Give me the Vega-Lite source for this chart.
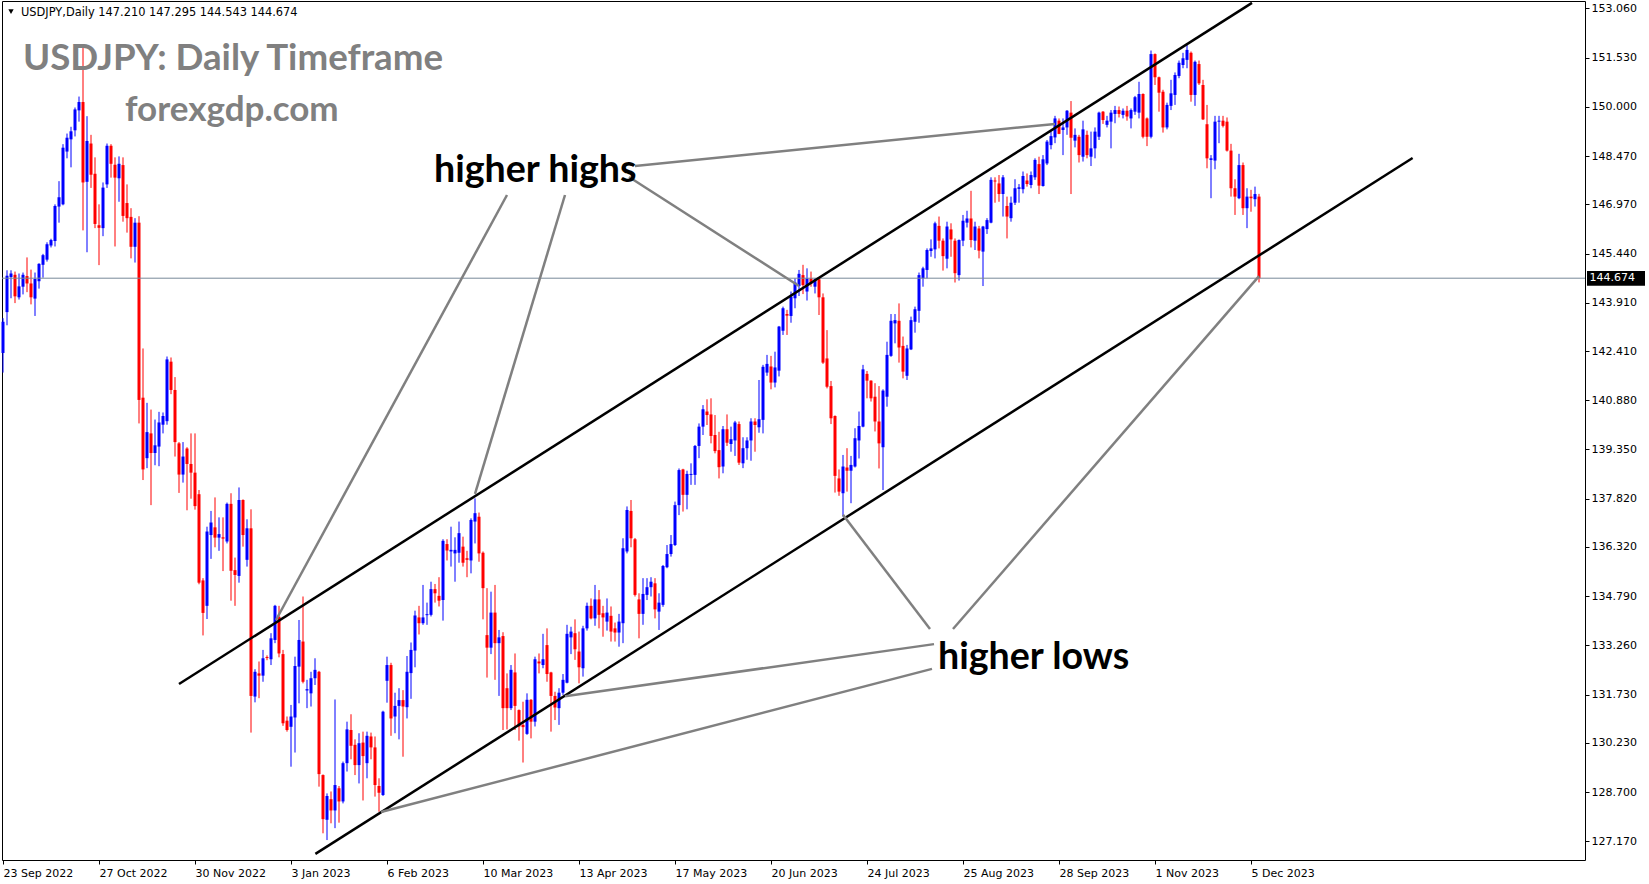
{
"$schema": "https://vega.github.io/schema/vega-lite/v6.json",
"width": 1583, "height": 859,
"autosize": "none",
"padding": {"left": 2, "top": 1, "right": 64, "bottom": 24},
"background": "white",
"config": {"view": {"stroke": "#000", "strokeWidth": 1}, "scale": {"continuousPadding": 0}},
"datasets": {
"candles": [
{"i":0,"o":142.35,"h":143.43,"l":141.74,"c":143.32},
{"i":1,"o":143.62,"h":144.92,"l":143.21,"c":144.75},
{"i":2,"o":144.71,"h":144.92,"l":144.05,"c":144.82},
{"i":3,"o":144.78,"h":144.88,"l":143.9,"c":144.11},
{"i":4,"o":144.08,"h":144.82,"l":144.01,"c":144.42},
{"i":5,"o":144.41,"h":144.85,"l":144.17,"c":144.78},
{"i":6,"o":144.74,"h":145.32,"l":144.24,"c":144.51},
{"i":7,"o":144.51,"h":144.94,"l":143.86,"c":144.08},
{"i":8,"o":144.04,"h":144.85,"l":143.5,"c":144.65},
{"i":9,"o":144.58,"h":145.14,"l":144.35,"c":145.12},
{"i":10,"o":145.09,"h":145.43,"l":144.69,"c":145.39},
{"i":11,"o":145.25,"h":145.79,"l":145.19,"c":145.73},
{"i":12,"o":145.69,"h":145.9,"l":145.63,"c":145.86},
{"i":13,"o":145.83,"h":146.97,"l":145.66,"c":146.92},
{"i":14,"o":146.9,"h":147.69,"l":146.4,"c":147.19},
{"i":15,"o":146.97,"h":148.84,"l":146.94,"c":148.73},
{"i":16,"o":148.61,"h":149.17,"l":148.4,"c":149.04},
{"i":17,"o":148.99,"h":149.38,"l":148.12,"c":149.24},
{"i":18,"o":149.27,"h":149.98,"l":149.08,"c":149.92},
{"i":19,"o":149.89,"h":150.32,"l":149.54,"c":150.15},
{"i":20,"o":150.15,"h":151.94,"l":146.16,"c":147.65},
{"i":21,"o":147.67,"h":149.71,"l":145.48,"c":148.94},
{"i":22,"o":148.86,"h":149.13,"l":147.48,"c":147.89},
{"i":23,"o":147.92,"h":148.43,"l":146.23,"c":146.36},
{"i":24,"o":146.32,"h":146.97,"l":145.08,"c":146.24},
{"i":25,"o":146.23,"h":147.65,"l":145.98,"c":147.49},
{"i":26,"o":147.59,"h":148.86,"l":147.48,"c":148.79},
{"i":27,"o":148.79,"h":148.84,"l":147.8,"c":148.23},
{"i":28,"o":148.2,"h":148.43,"l":145.66,"c":147.8},
{"i":29,"o":147.78,"h":148.46,"l":147.05,"c":148.23},
{"i":30,"o":148.19,"h":148.43,"l":146.43,"c":146.61},
{"i":31,"o":147.01,"h":147.59,"l":146.09,"c":146.54},
{"i":32,"o":146.58,"h":146.85,"l":145.29,"c":145.65},
{"i":33,"o":145.65,"h":146.54,"l":145.16,"c":146.4},
{"i":34,"o":146.4,"h":146.6,"l":140.16,"c":140.89},
{"i":35,"o":140.96,"h":142.49,"l":138.4,"c":138.73},
{"i":36,"o":139.08,"h":140.8,"l":138.77,"c":139.89},
{"i":37,"o":139.85,"h":140.59,"l":137.62,"c":139.24},
{"i":38,"o":139.24,"h":140.28,"l":138.86,"c":139.48},
{"i":39,"o":139.44,"h":140.52,"l":138.83,"c":140.19},
{"i":40,"o":140.12,"h":140.5,"l":139.85,"c":140.39},
{"i":41,"o":140.23,"h":142.24,"l":140.12,"c":142.15},
{"i":42,"o":142.08,"h":142.21,"l":141.07,"c":141.2},
{"i":43,"o":141.2,"h":141.6,"l":139.13,"c":139.58},
{"i":44,"o":139.54,"h":139.58,"l":138.0,"c":138.57},
{"i":45,"o":138.57,"h":139.58,"l":138.32,"c":139.13},
{"i":46,"o":139.38,"h":139.42,"l":137.46,"c":138.9},
{"i":47,"o":138.9,"h":139.85,"l":137.82,"c":138.63},
{"i":48,"o":138.63,"h":139.85,"l":137.48,"c":137.59},
{"i":49,"o":137.96,"h":138.09,"l":135.16,"c":135.21},
{"i":50,"o":135.28,"h":135.35,"l":133.57,"c":134.27},
{"i":51,"o":134.49,"h":136.95,"l":134.08,"c":136.8},
{"i":52,"o":136.69,"h":137.44,"l":135.95,"c":137.08},
{"i":53,"o":136.93,"h":137.86,"l":136.31,"c":136.61},
{"i":54,"o":136.61,"h":137.24,"l":136.2,"c":136.72},
{"i":55,"o":136.62,"h":137.24,"l":135.57,"c":136.58},
{"i":56,"o":136.49,"h":137.7,"l":136.43,"c":137.66},
{"i":57,"o":137.66,"h":137.99,"l":134.65,"c":135.58},
{"i":58,"o":135.6,"h":135.99,"l":134.49,"c":135.45},
{"i":59,"o":135.42,"h":138.17,"l":135.21,"c":137.78},
{"i":60,"o":137.78,"h":137.8,"l":136.33,"c":136.69},
{"i":61,"o":135.92,"h":137.18,"l":135.71,"c":136.9},
{"i":62,"o":136.9,"h":137.49,"l":130.55,"c":131.69},
{"i":63,"o":131.67,"h":132.52,"l":131.49,"c":132.44},
{"i":64,"o":132.39,"h":132.76,"l":131.62,"c":132.32},
{"i":65,"o":132.32,"h":133.12,"l":132.13,"c":132.86},
{"i":66,"o":132.9,"h":132.95,"l":132.8,"c":132.87},
{"i":67,"o":132.83,"h":133.64,"l":132.65,"c":133.48},
{"i":68,"o":133.43,"h":134.52,"l":133.33,"c":134.49},
{"i":69,"o":134.15,"h":134.49,"l":132.89,"c":133.01},
{"i":70,"o":132.99,"h":133.12,"l":130.76,"c":130.84},
{"i":71,"o":130.92,"h":131.05,"l":130.58,"c":130.63},
{"i":72,"o":130.73,"h":131.41,"l":129.49,"c":131.05},
{"i":73,"o":131.02,"h":132.91,"l":129.93,"c":132.62},
{"i":74,"o":132.6,"h":134.05,"l":131.46,"c":133.43},
{"i":75,"o":133.38,"h":134.78,"l":132.08,"c":132.13},
{"i":76,"o":131.86,"h":132.19,"l":131.31,"c":131.9},
{"i":77,"o":131.77,"h":132.44,"l":131.36,"c":132.24},
{"i":78,"o":132.24,"h":132.86,"l":132.03,"c":132.5},
{"i":79,"o":132.44,"h":132.47,"l":128.87,"c":129.26},
{"i":80,"o":129.23,"h":129.25,"l":127.42,"c":127.86},
{"i":81,"o":127.84,"h":128.66,"l":127.21,"c":128.58},
{"i":82,"o":128.48,"h":128.72,"l":127.73,"c":128.13},
{"i":83,"o":128.13,"h":131.58,"l":127.58,"c":128.92},
{"i":84,"o":128.82,"h":128.89,"l":127.75,"c":128.41},
{"i":85,"o":128.41,"h":129.65,"l":128.35,"c":129.6},
{"i":86,"o":129.6,"h":130.89,"l":129.34,"c":130.65},
{"i":87,"o":130.63,"h":131.12,"l":129.72,"c":130.14},
{"i":88,"o":130.17,"h":130.34,"l":129.23,"c":129.54},
{"i":89,"o":129.54,"h":130.53,"l":128.97,"c":130.22},
{"i":90,"o":130.24,"h":130.58,"l":128.44,"c":129.82},
{"i":91,"o":129.6,"h":130.58,"l":129.13,"c":130.45},
{"i":92,"o":130.43,"h":130.55,"l":129.72,"c":130.09},
{"i":93,"o":130.09,"h":130.43,"l":128.56,"c":128.92},
{"i":94,"o":128.89,"h":129.13,"l":128.09,"c":128.68},
{"i":95,"o":128.61,"h":131.23,"l":128.58,"c":131.2},
{"i":96,"o":132.16,"h":132.91,"l":131.48,"c":132.65},
{"i":97,"o":132.65,"h":132.72,"l":130.45,"c":130.99},
{"i":98,"o":131.05,"h":131.79,"l":130.53,"c":131.38},
{"i":99,"o":131.38,"h":131.93,"l":130.34,"c":131.56},
{"i":100,"o":131.56,"h":131.87,"l":129.8,"c":131.36},
{"i":101,"o":131.34,"h":132.93,"l":130.99,"c":132.44},
{"i":102,"o":132.4,"h":133.35,"l":131.6,"c":133.12},
{"i":103,"o":133.1,"h":134.34,"l":132.58,"c":134.19},
{"i":104,"o":134.13,"h":134.49,"l":133.6,"c":133.95},
{"i":105,"o":133.95,"h":135.14,"l":133.9,"c":134.13},
{"i":106,"o":134.2,"h":134.59,"l":133.9,"c":134.23},
{"i":107,"o":134.21,"h":135.24,"l":134.16,"c":135.01},
{"i":108,"o":135.01,"h":135.17,"l":134.59,"c":134.88},
{"i":109,"o":134.8,"h":135.38,"l":134.47,"c":134.65},
{"i":110,"o":134.67,"h":136.56,"l":134.03,"c":136.51},
{"i":111,"o":136.41,"h":136.56,"l":135.9,"c":136.21},
{"i":112,"o":136.18,"h":136.95,"l":135.71,"c":136.23},
{"i":113,"o":136.12,"h":136.62,"l":135.24,"c":136.23},
{"i":114,"o":136.14,"h":137.11,"l":135.83,"c":136.75},
{"i":115,"o":136.33,"h":136.64,"l":135.71,"c":135.83},
{"i":116,"o":135.97,"h":136.2,"l":135.38,"c":135.92},
{"i":117,"o":135.9,"h":137.21,"l":135.5,"c":137.16},
{"i":118,"o":137.11,"h":137.83,"l":136.43,"c":137.37},
{"i":119,"o":137.26,"h":137.39,"l":135.86,"c":136.12},
{"i":120,"o":136.14,"h":136.18,"l":134.07,"c":135.04},
{"i":121,"o":133.58,"h":135.04,"l":132.26,"c":133.19},
{"i":122,"o":133.19,"h":134.93,"l":132.99,"c":134.28},
{"i":123,"o":134.28,"h":135.14,"l":132.19,"c":133.33},
{"i":124,"o":133.33,"h":133.74,"l":131.69,"c":133.51},
{"i":125,"o":133.55,"h":133.67,"l":130.63,"c":131.31},
{"i":126,"o":131.93,"h":132.39,"l":130.65,"c":131.31},
{"i":127,"o":131.31,"h":132.65,"l":131.25,"c":132.5},
{"i":128,"o":132.42,"h":133.01,"l":130.63,"c":131.38},
{"i":129,"o":131.25,"h":131.27,"l":130.3,"c":130.74},
{"i":130,"o":130.79,"h":131.51,"l":129.62,"c":130.72},
{"i":131,"o":130.51,"h":131.77,"l":130.48,"c":131.57},
{"i":132,"o":131.57,"h":131.59,"l":130.37,"c":130.89},
{"i":133,"o":130.89,"h":132.91,"l":130.74,"c":132.83},
{"i":134,"o":132.76,"h":133.01,"l":132.39,"c":132.7},
{"i":135,"o":132.65,"h":133.62,"l":132.55,"c":132.83},
{"i":136,"o":133.27,"h":133.79,"l":132.13,"c":132.37},
{"i":137,"o":132.42,"h":132.44,"l":130.58,"c":131.69},
{"i":138,"o":131.69,"h":131.82,"l":130.94,"c":131.33},
{"i":139,"o":131.31,"h":131.93,"l":130.79,"c":131.79},
{"i":140,"o":131.79,"h":132.37,"l":131.72,"c":132.19},
{"i":141,"o":132.1,"h":133.9,"l":132.08,"c":133.62},
{"i":142,"o":133.51,"h":133.84,"l":132.99,"c":133.69},
{"i":143,"o":133.64,"h":134.07,"l":132.81,"c":133.14},
{"i":144,"o":133.07,"h":133.69,"l":132.08,"c":132.58},
{"i":145,"o":132.55,"h":133.87,"l":132.29,"c":133.79},
{"i":146,"o":133.79,"h":134.59,"l":133.72,"c":134.49},
{"i":147,"o":134.49,"h":134.72,"l":134.07,"c":134.1},
{"i":148,"o":134.1,"h":135.14,"l":133.87,"c":134.69},
{"i":149,"o":134.69,"h":134.98,"l":133.79,"c":134.21},
{"i":150,"o":134.26,"h":134.49,"l":133.53,"c":134.13},
{"i":151,"o":134.0,"h":134.72,"l":133.72,"c":134.28},
{"i":152,"o":134.18,"h":134.47,"l":133.38,"c":133.69},
{"i":153,"o":133.79,"h":133.97,"l":133.38,"c":133.66},
{"i":154,"o":133.66,"h":134.24,"l":133.22,"c":134.0},
{"i":155,"o":133.95,"h":136.59,"l":133.33,"c":136.28},
{"i":156,"o":136.18,"h":137.58,"l":136.12,"c":137.47},
{"i":157,"o":137.44,"h":137.78,"l":136.31,"c":136.59},
{"i":158,"o":136.56,"h":136.6,"l":134.78,"c":134.83},
{"i":159,"o":134.69,"h":134.88,"l":133.48,"c":134.24},
{"i":160,"o":134.24,"h":135.35,"l":133.9,"c":134.86},
{"i":161,"o":134.83,"h":135.35,"l":134.67,"c":135.07},
{"i":162,"o":135.07,"h":135.38,"l":134.78,"c":135.24},
{"i":163,"o":135.19,"h":135.35,"l":134.1,"c":134.38},
{"i":164,"o":134.31,"h":134.88,"l":133.74,"c":134.59},
{"i":165,"o":134.52,"h":135.76,"l":134.46,"c":135.73},
{"i":166,"o":135.69,"h":136.38,"l":135.66,"c":136.1},
{"i":167,"o":136.1,"h":136.69,"l":136.02,"c":136.41},
{"i":168,"o":136.38,"h":137.73,"l":136.35,"c":137.62},
{"i":169,"o":137.62,"h":138.76,"l":137.31,"c":138.71},
{"i":170,"o":138.73,"h":138.75,"l":137.42,"c":137.94},
{"i":171,"o":137.94,"h":138.69,"l":137.49,"c":138.59},
{"i":172,"o":138.56,"h":138.92,"l":138.25,"c":138.59},
{"i":173,"o":138.56,"h":139.49,"l":138.25,"c":139.46},
{"i":174,"o":139.46,"h":140.16,"l":139.08,"c":140.06},
{"i":175,"o":140.06,"h":140.73,"l":139.8,"c":140.6},
{"i":176,"o":140.53,"h":140.91,"l":140.11,"c":140.42},
{"i":177,"o":140.44,"h":140.94,"l":139.54,"c":139.77},
{"i":178,"o":139.8,"h":140.42,"l":139.23,"c":139.3},
{"i":179,"o":139.33,"h":139.9,"l":138.45,"c":138.8},
{"i":180,"o":138.82,"h":140.08,"l":138.61,"c":139.98},
{"i":181,"o":139.98,"h":140.44,"l":139.46,"c":139.56},
{"i":182,"o":139.52,"h":140.06,"l":139.28,"c":139.67},
{"i":183,"o":139.63,"h":140.24,"l":139.15,"c":140.19},
{"i":184,"o":140.14,"h":140.22,"l":138.87,"c":138.94},
{"i":185,"o":138.92,"h":139.73,"l":138.77,"c":139.39},
{"i":186,"o":139.39,"h":139.73,"l":139.03,"c":139.63},
{"i":187,"o":139.63,"h":140.32,"l":139.0,"c":140.22},
{"i":188,"o":140.22,"h":140.32,"l":139.28,"c":140.11},
{"i":189,"o":140.04,"h":141.51,"l":139.87,"c":140.29},
{"i":190,"o":140.27,"h":141.98,"l":139.85,"c":141.92},
{"i":191,"o":141.74,"h":142.29,"l":141.64,"c":142.01},
{"i":192,"o":141.93,"h":142.26,"l":141.22,"c":141.43},
{"i":193,"o":141.43,"h":142.39,"l":141.28,"c":141.9},
{"i":194,"o":141.8,"h":143.19,"l":141.62,"c":143.17},
{"i":195,"o":143.04,"h":143.79,"l":142.91,"c":143.74},
{"i":196,"o":143.56,"h":143.69,"l":142.91,"c":143.51},
{"i":197,"o":143.5,"h":144.26,"l":143.29,"c":144.1},
{"i":198,"o":144.05,"h":144.67,"l":143.74,"c":144.54},
{"i":199,"o":144.43,"h":144.93,"l":144.12,"c":144.81},
{"i":200,"o":144.77,"h":145.09,"l":144.18,"c":144.46},
{"i":201,"o":144.26,"h":144.98,"l":143.98,"c":144.67},
{"i":202,"o":144.67,"h":144.88,"l":144.41,"c":144.51},
{"i":203,"o":144.41,"h":144.67,"l":144.2,"c":144.64},
{"i":204,"o":144.64,"h":144.67,"l":143.53,"c":144.08},
{"i":205,"o":144.08,"h":144.2,"l":142.01,"c":142.05},
{"i":206,"o":142.18,"h":143.06,"l":141.25,"c":141.3},
{"i":207,"o":141.32,"h":141.48,"l":140.14,"c":140.32},
{"i":208,"o":140.39,"h":140.41,"l":138.01,"c":138.53},
{"i":209,"o":138.45,"h":138.73,"l":137.91,"c":138.04},
{"i":210,"o":137.99,"h":139.18,"l":137.26,"c":138.82},
{"i":211,"o":138.79,"h":139.39,"l":138.04,"c":138.69},
{"i":212,"o":138.69,"h":139.15,"l":137.68,"c":138.87},
{"i":213,"o":138.82,"h":140.01,"l":138.79,"c":139.7},
{"i":214,"o":139.63,"h":140.53,"l":139.07,"c":140.08},
{"i":215,"o":140.06,"h":141.98,"l":140.04,"c":141.84},
{"i":216,"o":141.7,"h":141.79,"l":140.94,"c":141.49},
{"i":217,"o":141.49,"h":141.5,"l":140.84,"c":140.94},
{"i":218,"o":140.99,"h":141.41,"l":139.91,"c":140.22},
{"i":219,"o":140.22,"h":141.32,"l":138.76,"c":139.54},
{"i":220,"o":139.42,"h":141.22,"l":138.09,"c":141.18},
{"i":221,"o":140.99,"h":142.7,"l":140.68,"c":142.29},
{"i":222,"o":142.26,"h":143.56,"l":142.23,"c":143.35},
{"i":223,"o":143.27,"h":143.56,"l":142.65,"c":143.37},
{"i":224,"o":143.35,"h":143.89,"l":142.05,"c":142.52},
{"i":225,"o":142.57,"h":142.86,"l":141.56,"c":141.77},
{"i":226,"o":141.64,"h":142.6,"l":141.51,"c":142.49},
{"i":227,"o":142.46,"h":143.48,"l":142.44,"c":143.37},
{"i":228,"o":143.32,"h":143.79,"l":142.98,"c":143.71},
{"i":229,"o":143.66,"h":144.85,"l":143.29,"c":144.77},
{"i":230,"o":144.67,"h":145.03,"l":144.41,"c":144.98},
{"i":231,"o":144.93,"h":145.6,"l":144.67,"c":145.55},
{"i":232,"o":145.52,"h":145.88,"l":145.34,"c":145.6},
{"i":233,"o":145.57,"h":146.43,"l":145.29,"c":146.38},
{"i":234,"o":146.3,"h":146.59,"l":145.6,"c":145.84},
{"i":235,"o":145.84,"h":145.91,"l":144.91,"c":145.36},
{"i":236,"o":145.28,"h":146.43,"l":144.98,"c":146.28},
{"i":237,"o":146.19,"h":146.38,"l":145.34,"c":145.88},
{"i":238,"o":145.84,"h":145.91,"l":144.54,"c":144.83},
{"i":239,"o":144.77,"h":145.88,"l":144.6,"c":145.86},
{"i":240,"o":145.84,"h":146.64,"l":145.67,"c":146.46},
{"i":241,"o":146.4,"h":146.77,"l":146.25,"c":146.53},
{"i":242,"o":146.53,"h":147.39,"l":145.63,"c":145.86},
{"i":243,"o":145.84,"h":146.43,"l":145.55,"c":146.28},
{"i":244,"o":146.22,"h":146.3,"l":145.29,"c":145.53},
{"i":245,"o":145.5,"h":146.3,"l":144.43,"c":146.28},
{"i":246,"o":146.2,"h":146.54,"l":146.05,"c":146.48},
{"i":247,"o":146.4,"h":147.81,"l":146.38,"c":147.73},
{"i":248,"o":147.71,"h":147.81,"l":147.02,"c":147.68},
{"i":249,"o":147.62,"h":147.88,"l":147.05,"c":147.29},
{"i":250,"o":147.29,"h":147.88,"l":146.59,"c":147.81},
{"i":251,"o":146.92,"h":147.21,"l":145.91,"c":146.59},
{"i":252,"o":146.54,"h":147.21,"l":146.43,"c":147.02},
{"i":253,"o":147.02,"h":147.75,"l":146.95,"c":147.47},
{"i":254,"o":147.45,"h":147.6,"l":147.02,"c":147.5},
{"i":255,"o":147.44,"h":147.99,"l":147.31,"c":147.85},
{"i":256,"o":147.71,"h":147.93,"l":147.52,"c":147.6},
{"i":257,"o":147.57,"h":147.99,"l":147.47,"c":147.88},
{"i":258,"o":147.81,"h":148.4,"l":147.73,"c":148.35},
{"i":259,"o":148.22,"h":148.45,"l":147.29,"c":147.55},
{"i":260,"o":147.54,"h":148.5,"l":147.52,"c":148.37},
{"i":261,"o":148.24,"h":148.97,"l":148.19,"c":148.92},
{"i":262,"o":148.81,"h":149.23,"l":148.68,"c":149.09},
{"i":263,"o":149.05,"h":149.72,"l":148.87,"c":149.64},
{"i":264,"o":149.57,"h":149.64,"l":149.15,"c":149.16},
{"i":265,"o":149.28,"h":149.64,"l":148.5,"c":149.36},
{"i":266,"o":149.36,"h":149.9,"l":149.13,"c":149.88},
{"i":267,"o":149.82,"h":150.18,"l":147.29,"c":149.04},
{"i":268,"o":148.95,"h":149.33,"l":148.74,"c":149.13},
{"i":269,"o":149.07,"h":149.13,"l":148.27,"c":148.5},
{"i":270,"o":148.45,"h":149.57,"l":148.3,"c":149.3},
{"i":271,"o":149.13,"h":149.26,"l":148.4,"c":148.5},
{"i":272,"o":148.45,"h":149.23,"l":148.16,"c":148.71},
{"i":273,"o":148.71,"h":149.36,"l":148.4,"c":149.23},
{"i":274,"o":149.07,"h":149.85,"l":148.97,"c":149.82},
{"i":275,"o":149.85,"h":149.87,"l":149.47,"c":149.59},
{"i":276,"o":149.44,"h":149.72,"l":149.36,"c":149.57},
{"i":277,"o":149.54,"h":149.9,"l":148.71,"c":149.82},
{"i":278,"o":149.78,"h":150.03,"l":149.49,"c":149.9},
{"i":279,"o":149.9,"h":150.01,"l":149.67,"c":149.78},
{"i":280,"o":149.75,"h":149.95,"l":149.64,"c":149.88},
{"i":281,"o":149.88,"h":150.03,"l":149.57,"c":149.7},
{"i":282,"o":149.64,"h":149.95,"l":149.33,"c":149.9},
{"i":283,"o":149.85,"h":150.34,"l":149.75,"c":150.3},
{"i":284,"o":149.82,"h":150.78,"l":149.64,"c":150.4},
{"i":285,"o":150.4,"h":150.42,"l":149.02,"c":149.07},
{"i":286,"o":149.64,"h":149.67,"l":148.78,"c":149.07},
{"i":287,"o":149.07,"h":151.75,"l":149.02,"c":151.64},
{"i":288,"o":151.64,"h":151.66,"l":150.68,"c":150.92},
{"i":289,"o":150.92,"h":150.94,"l":149.85,"c":150.44},
{"i":290,"o":150.47,"h":150.53,"l":149.2,"c":149.36},
{"i":291,"o":149.36,"h":150.13,"l":149.3,"c":150.06},
{"i":292,"o":150.03,"h":150.84,"l":149.9,"c":150.42},
{"i":293,"o":150.37,"h":151.07,"l":150.06,"c":150.99},
{"i":294,"o":150.96,"h":151.44,"l":150.89,"c":151.37},
{"i":295,"o":151.3,"h":151.68,"l":151.2,"c":151.51},
{"i":296,"o":151.46,"h":151.92,"l":151.2,"c":151.77},
{"i":297,"o":151.68,"h":151.72,"l":150.16,"c":150.37},
{"i":298,"o":150.37,"h":151.44,"l":150.03,"c":151.4},
{"i":299,"o":151.33,"h":151.44,"l":150.68,"c":150.73},
{"i":300,"o":150.68,"h":150.84,"l":149.59,"c":149.61},
{"i":301,"o":149.46,"h":150.06,"l":148.09,"c":148.4},
{"i":302,"o":148.35,"h":148.5,"l":147.16,"c":148.4},
{"i":303,"o":148.33,"h":149.72,"l":148.06,"c":149.54},
{"i":304,"o":149.54,"h":149.72,"l":148.87,"c":149.57},
{"i":305,"o":149.57,"h":149.72,"l":149.36,"c":149.41},
{"i":306,"o":149.54,"h":149.67,"l":148.61,"c":148.64},
{"i":307,"o":148.64,"h":148.85,"l":147.21,"c":147.47},
{"i":308,"o":147.47,"h":147.75,"l":146.64,"c":147.21},
{"i":309,"o":147.16,"h":148.54,"l":147.13,"c":148.19},
{"i":310,"o":148.19,"h":148.27,"l":146.64,"c":146.85},
{"i":311,"o":146.85,"h":147.47,"l":146.23,"c":147.21},
{"i":312,"o":147.21,"h":147.42,"l":146.74,"c":147.16},
{"i":313,"o":147.13,"h":147.52,"l":146.9,"c":147.29},
{"i":314,"o":147.21,"h":147.295,"l":144.543,"c":144.674}
],
"lines": [
{"x":44,"y":132.06,"x2":312.25,"y2":153.23,"k":"channel"},
{"x":78.1,"y":126.78,"x2":352.4,"y2":148.41,"k":"channel"},
{"x":158,"y":148.16,"x2":263,"y2":149.47,"k":"pointer"},
{"x":156.5,"y":147.82,"x2":199,"y2":144.43,"k":"pointer"},
{"x":140.5,"y":147.26,"x2":118,"y2":137.97,"k":"pointer"},
{"x":126,"y":147.26,"x2":68.25,"y2":134.05,"k":"pointer"},
{"x":232.75,"y":133.3,"x2":140.5,"y2":131.68,"k":"pointer"},
{"x":232.25,"y":132.53,"x2":94.5,"y2":128.08,"k":"pointer"},
{"x":231.75,"y":133.77,"x2":210,"y2":137.32,"k":"pointer"},
{"x":237.5,"y":133.77,"x2":314,"y2":144.74,"k":"pointer"}
]
},
"layer": [
{
"data": {"name": "candles"},
"mark": {"type": "rule", "strokeWidth": 1},
"encoding": {
"x": {"field": "i", "type": "quantitative",
"scale": {"domain": [-0.25, 395.5], "nice": false, "zero": false, "padding": 0},
"axis": {"values": [0,24,48,72,96,120,144,168,192,216,240,264,288,312],
"labelExpr": "['23 Sep 2022','27 Oct 2022','30 Nov 2022','3 Jan 2023','6 Feb 2023','10 Mar 2023','13 Apr 2023','17 May 2023','20 Jun 2023','24 Jul 2023','25 Aug 2023','28 Sep 2023','1 Nov 2023','5 Dec 2023'][round(datum.value/24)]",
"title": null, "grid": false, "domain": false, "tickColor": "#000", "tickSize": 4,
"labelAlign": "left", "labelFont": "DejaVu Sans", "labelFontSize": 11, "labelColor": "#000",
"labelPadding": 3, "labelOverlap": false, "labelFlush": false, "labelBound": false}},
"y": {"field": "l", "type": "quantitative",
"scale": {"domain": [126.59, 153.29], "nice": false, "zero": false, "padding": 0},
"axis": {"orient": "right", "values": [127.17,128.7,130.23,131.73,133.26,134.79,136.32,137.82,139.35,140.88,142.41,143.91,145.44,146.97,148.47,150.0,151.53,153.06],
"format": ".3f", "title": null, "grid": false, "domain": false, "tickColor": "#000", "tickSize": 4,
"labelFont": "DejaVu Sans", "labelFontSize": 11, "labelColor": "#000", "labelPadding": 2,
"labelOverlap": false, "labelFlush": false, "labelBound": false}},
"y2": {"field": "h"},
"color": {"condition": {"test": "datum.c > datum.o", "value": "#0000ff"}, "value": "#ff0000"}
}
},
{
"data": {"name": "candles"},
"mark": {"type": "bar", "width": 3, "orient": "vertical"},
"encoding": {
"x": {"field": "i", "type": "quantitative"},
"y": {"field": "o", "type": "quantitative"},
"y2": {"field": "c"},
"color": {"condition": {"test": "datum.c > datum.o", "value": "#0000ff"}, "value": "#ff0000"}
}
},
{
"data": {"values": [{}]},
"mark": {"type": "rule", "color": "#778899", "strokeWidth": 1},
"encoding": {"y": {"datum": 144.674}}
},
{
"data": {"name": "lines"},
"mark": {"type": "rule", "strokeWidth": 2.5},
"encoding": {
"x": {"field": "x", "type": "quantitative"},
"y": {"field": "y", "type": "quantitative"},
"x2": {"field": "x2"},
"y2": {"field": "y2"},
"color": {"field": "k", "type": "nominal", "scale": {"domain": ["channel", "pointer"], "range": ["#000000", "#808080"]}, "legend": null}
}
},
{
"data": {"values": [{}]},
"mark": {"type": "rect", "color": "#000"},
"encoding": {"x": {"datum": 396}, "x2": {"datum": 410.5}, "y": {"datum": 144.44}, "y2": {"datum": 144.9}}
},
{
"data": {"values": [{}]},
"mark": {"type": "text", "align": "left", "baseline": "middle", "font": "DejaVu Sans", "fontSize": 11, "color": "#fff"},
"encoding": {"x": {"datum": 396.6}, "y": {"datum": 144.674}, "text": {"value": "144.674"}}
},
{
"data": {"values": [{}]},
"mark": {"type": "point", "shape": "triangle-down", "filled": true, "color": "#000", "size": 28, "opacity": 1},
"encoding": {"x": {"datum": 2}, "y": {"datum": 152.96}}
},
{
"data": {"values": [{}]},
"mark": {"type": "text", "align": "left", "baseline": "alphabetic", "font": "DejaVu Sans", "fontSize": 11.4, "color": "#000"},
"encoding": {"x": {"datum": 4.5}, "y": {"datum": 152.82}, "text": {"value": "USDJPY,Daily  147.210 147.295 144.543 144.674"}}
},
{
"data": {"values": [{}]},
"mark": {"type": "text", "align": "left", "baseline": "alphabetic", "font": "Lato", "fontWeight": "bold", "fontSize": 36.7, "color": "#808080"},
"encoding": {"x": {"datum": 5}, "y": {"datum": 151.14}, "text": {"value": "USDJPY: Daily Timeframe"}}
},
{
"data": {"values": [{}]},
"mark": {"type": "text", "align": "left", "baseline": "alphabetic", "font": "Lato", "fontWeight": "bold", "fontSize": 35, "color": "#808080"},
"encoding": {"x": {"datum": 30.5}, "y": {"datum": 149.55}, "text": {"value": "forexgdp.com"}}
},
{
"data": {"values": [{}]},
"mark": {"type": "text", "align": "left", "baseline": "alphabetic", "font": "Lato", "fontWeight": "bold", "fontSize": 37.6, "color": "#000"},
"encoding": {"x": {"datum": 107.75}, "y": {"datum": 147.67}, "text": {"value": "higher highs"}}
},
{
"data": {"values": [{}]},
"mark": {"type": "text", "align": "left", "baseline": "alphabetic", "font": "Lato", "fontWeight": "bold", "fontSize": 37.6, "color": "#000"},
"encoding": {"x": {"datum": 233.75}, "y": {"datum": 132.53}, "text": {"value": "higher lows"}}
}
]
}
